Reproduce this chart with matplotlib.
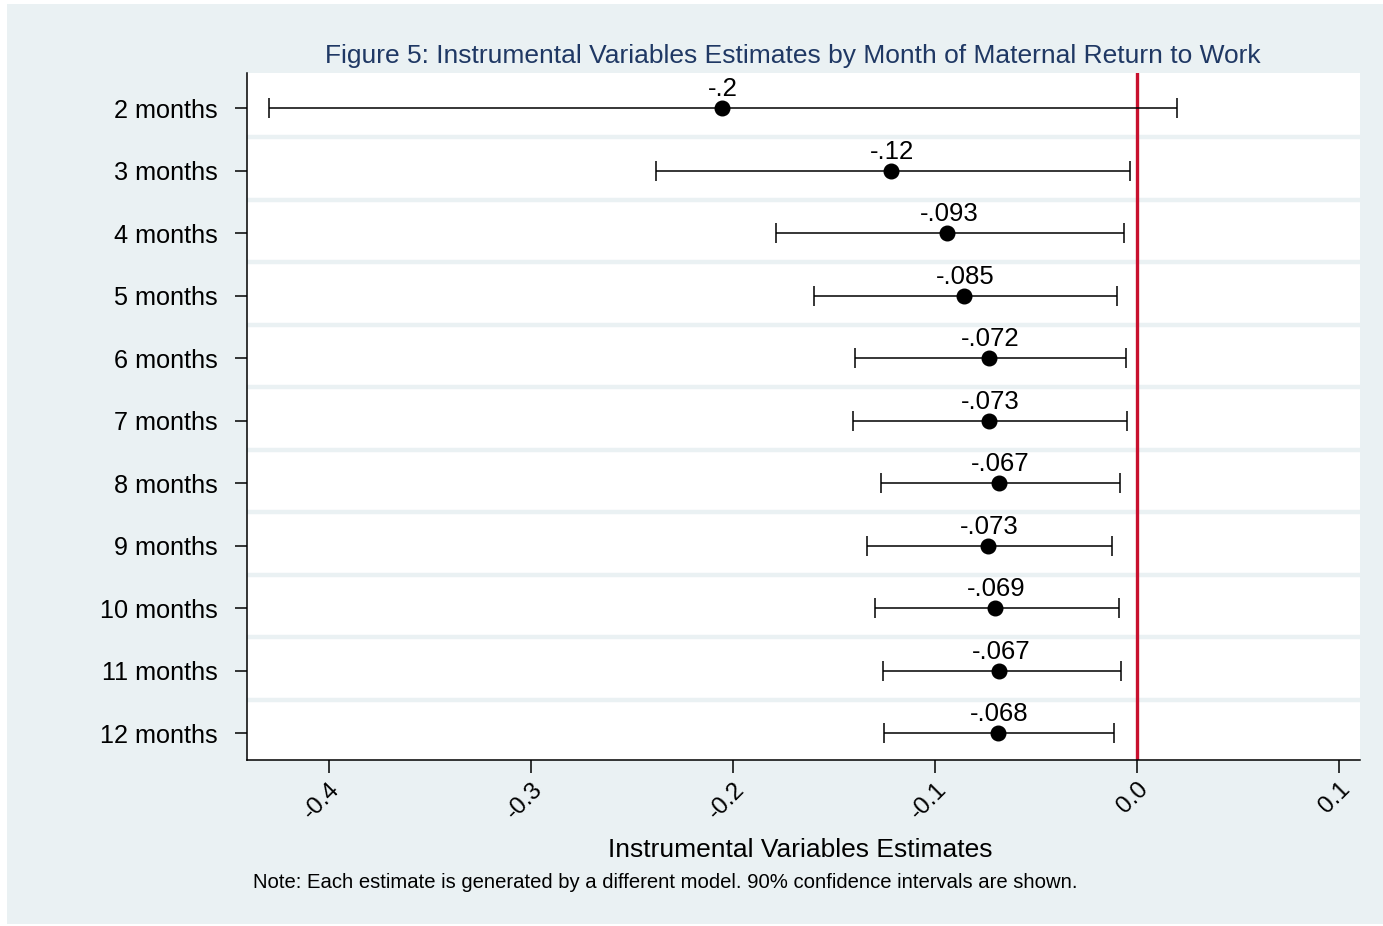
import matplotlib
matplotlib.use("Agg")
import matplotlib.pyplot as plt
from matplotlib.patches import Rectangle

plt.rcParams['font.family'] = ['Liberation Sans', 'DejaVu Sans']

categories = ["2 months", "3 months", "4 months", "5 months", "6 months", "7 months",
              "8 months", "9 months", "10 months", "11 months", "12 months"]
estimates = [-0.2057, -0.1219, -0.0940, -0.0856, -0.0734, -0.0735,
             -0.0686, -0.0739, -0.0703, -0.0683, -0.0689]
ci_low = [-0.4297, -0.2380, -0.1790, -0.1600, -0.1399, -0.1408,
          -0.1270, -0.1336, -0.1298, -0.1260, -0.1252]
ci_high = [0.0195, -0.0034, -0.0067, -0.0100, -0.0056, -0.0051,
           -0.0084, -0.0127, -0.0089, -0.0081, -0.0117]
point_labels = ["-.2", "-.12", "-.093", "-.085", "-.072", "-.073",
                "-.067", "-.073", "-.069", "-.067", "-.068"]
xticks = [-0.4, -0.3, -0.2, -0.1, 0.0, 0.1]
xtick_labels = ["-0.4", "-0.3", "-0.2", "-0.1", "0.0", "0.1"]
ref_value = 0.0

title = "Figure 5: Instrumental Variables Estimates by Month of Maternal Return to Work"
xlabel = "Instrumental Variables Estimates"
note = "Note: Each estimate is generated by a different model. 90% confidence intervals are shown."

W, H = 1383, 926
BG = '#EAF1F3'
fig = plt.figure(figsize=(W / 100, H / 100), dpi=100, facecolor='white')
fig.patches.append(Rectangle((7 / W, 2 / H), 1 - 7 / W, 1 - 6 / H, transform=fig.transFigure,
                             facecolor=BG, edgecolor='none', zorder=-10))

ax_l, ax_r, ax_t, ax_b = 247, 1360, 73, 760.3
ax = fig.add_axes([ax_l / W, (H - ax_b) / H, (ax_r - ax_l) / W, (ax_b - ax_t) / H])
ax.set_facecolor('white')

ypos = list(range(len(categories)))
xerr = [[e - lo for e, lo in zip(estimates, ci_low)], [hi - e for e, hi in zip(estimates, ci_high)]]

# gridlines between rows
for i in range(len(categories) - 1):
    ax.axhline(i + 0.46, color=BG, lw=3.2, zorder=1)

ax.axvline(ref_value, color='#C8102E', lw=2.4, zorder=2)

ax.errorbar(estimates, ypos, xerr=xerr, fmt='o', color='black', ecolor='black',
            elinewidth=1.1, capsize=7.5, capthick=1.1, markersize=10.5, zorder=3)

for x, y, lab in zip(estimates, ypos, point_labels):
    ax.annotate(lab, (x, y), xytext=(1, 5), textcoords='offset points',
                ha='center', va='bottom', fontsize=18.5, color='black', zorder=4)

ax.set_xlim(-0.4406, 0.1102)
ax.set_ylim(10.432, -0.565)
ax.set_yticks(ypos)
ax.set_yticklabels(categories, fontsize=18.2)
ax.set_xticks(xticks)
ax.set_xticklabels(xtick_labels, fontsize=17.5, rotation=45, ha='right', va='top',
                   rotation_mode='anchor')
ax.tick_params(axis='y', length=9, width=1.1, pad=12)
ax.tick_params(axis='x', length=9, width=1.1, pad=4)
for s in ['top', 'right']:
    ax.spines[s].set_visible(False)
for s in ['left', 'bottom']:
    ax.spines[s].set_linewidth(1.1)

fig.text(793 / W, 1 - 56 / H, title, ha='center', va='center', fontsize=19, color='#1F3864')
fig.text(800 / W, 1 - 850 / H, xlabel, ha='center', va='center', fontsize=19, color='black')
fig.text(253 / W, 1 - 883 / H, note, ha='left', va='center', fontsize=14.6, color='black')

fig.savefig('out.png', dpi=100, facecolor=fig.get_facecolor())
